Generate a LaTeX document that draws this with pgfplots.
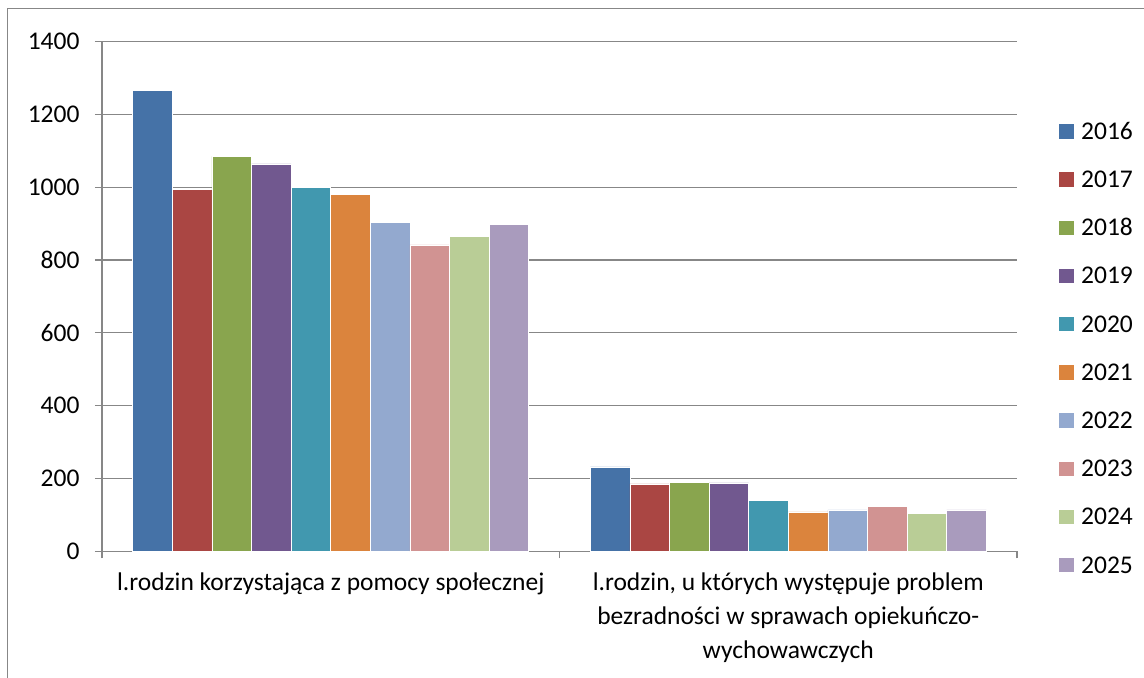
\documentclass[border=0pt]{standalone}
\usepackage{fontspec}
\setmainfont{Carlito}
\usepackage{pgfplots}
\pgfplotsset{compat=1.18}
\definecolor{c16}{HTML}{4572A7}
\definecolor{c17}{HTML}{AA4643}
\definecolor{c18}{HTML}{89A54E}
\definecolor{c19}{HTML}{71588F}
\definecolor{c20}{HTML}{4198AF}
\definecolor{c21}{HTML}{DB843D}
\definecolor{c22}{HTML}{93A9CF}
\definecolor{c23}{HTML}{D19392}
\definecolor{c24}{HTML}{B9CD96}
\definecolor{c25}{HTML}{A99BBD}
\definecolor{gridc}{HTML}{878787}
\begin{document}
\fontsize{12.75}{15}\selectfont
\begin{tikzpicture}
\useasboundingbox (-51pt,-63.35pt) rectangle (521pt,275.65pt);
\draw[gridc, line width=0.5pt] (-47pt,-90pt) rectangle (540pt,271.15pt);
\begin{axis}[
  at={(0,0)}, anchor=south west,
  scale only axis, width=457.5pt, height=254.8pt,
  ymin=0, ymax=1400, ytick={0,200,...,1400},
  xmin=-0.5, xmax=1.5,
  xtick={-0.5,0.5,1.5}, x tick label as interval,
  xticklabels={l.rodzin korzystająca z pomocy społecznej, {l.rodzin, u których występuje problem\\bezradności w sprawach opiekuńczo-\\wychowawczych}},
  xticklabel style={align=center, font=\fontsize{12.75}{17}\selectfont, yshift=-3pt},
  yticklabel style={xshift=-3.3pt},
  ybar=0pt, bar width=19.8pt,
  ymajorgrids, grid style={gridc, line width=0.6pt},
  axis x line*=bottom, axis y line*=left,
  axis line style={gridc, line width=0.6pt, -},
  tick style={gridc, line width=0.6pt},
  xtick align=outside, ytick align=outside, major tick length=3.5pt,
  /pgf/number format/assume math mode=true,
  /pgf/number format/1000 sep={},
  every axis plot post/.append style={legend image code/.code={\fill[##1] (0pt,-3.85pt) rectangle (7.8pt,3.85pt);}},
  legend style={draw=none, fill=none, at={(1.0448,0.8399)}, anchor=north west, inner sep=0pt, outer sep=0pt,
    row sep=16.1pt, column sep=0pt,
    nodes={inner sep=0pt, outer sep=0pt, text height=8pt, text depth=0pt},
    /tikz/every odd column/.append style={column sep=3.5pt}},
  legend cell align=left,
]
\addplot[fill=c16, draw=white, line width=0.3pt] coordinates {(0,1266) (1,232)};
\addplot[fill=c17, draw=white, line width=0.3pt] coordinates {(0,995) (1,185)};
\addplot[fill=c18, draw=white, line width=0.3pt] coordinates {(0,1085) (1,190)};
\addplot[fill=c19, draw=white, line width=0.3pt] coordinates {(0,1064) (1,188)};
\addplot[fill=c20, draw=white, line width=0.3pt] coordinates {(0,1000) (1,140)};
\addplot[fill=c21, draw=white, line width=0.3pt] coordinates {(0,981) (1,108)};
\addplot[fill=c22, draw=white, line width=0.3pt] coordinates {(0,904) (1,114)};
\addplot[fill=c23, draw=white, line width=0.3pt] coordinates {(0,842) (1,123)};
\addplot[fill=c24, draw=white, line width=0.3pt] coordinates {(0,865) (1,104)};
\addplot[fill=c25, draw=white, line width=0.3pt] coordinates {(0,899) (1,114)};
\legend{2016,2017,2018,2019,2020,2021,2022,2023,2024,2025}
\end{axis}
\end{tikzpicture}
\end{document}
